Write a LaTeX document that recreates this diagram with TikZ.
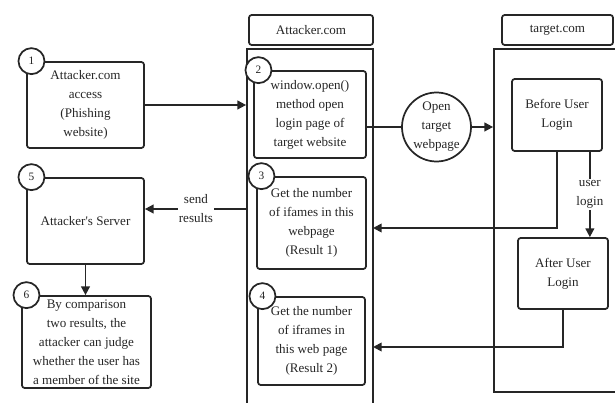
\documentclass[tikz,border=0pt]{standalone}
\usepackage{fontspec}
\setmainfont{Liberation Serif}
\usetikzlibrary{arrows.meta}
\definecolor{ink}{HTML}{262626}

\begin{document}
\begin{tikzpicture}[x=0.75pt,y=-0.75pt,
    every node/.style={font=\fontsize{9.8}{14.25}\selectfont,text=ink},
    box/.style={draw=ink,line width=1.3pt,rounded corners=2pt,align=center,inner sep=1pt},
    lane/.style={draw=ink,line width=1.3pt},
    num/.style={circle,draw=ink,fill=white,line width=1.3pt,minimum size=19.5pt,inner sep=0pt,font=\fontsize{8.5}{10}\selectfont},
    arr/.style={draw=ink,line width=1.3pt,-{Triangle[length=6.5pt,width=6.5pt]}},
    lbl/.style={fill=white,align=center,inner sep=1pt}]
    \useasboundingbox (0,0) rectangle (615,403);
    \clip (0,0) rectangle (615,403);
    % Lanes
    \node[lane,minimum width=94.5pt,minimum height=278.25pt] (alane) at (310,234.5) {};
    \node[lane,minimum width=109.5pt,minimum height=257.25pt] (tlane) at (567,220.5) {};
    \node[box,minimum width=93pt,minimum height=22.5pt] (ahead) at (311,30) {Attacker.com};
    \node[box,minimum width=83.25pt,minimum height=22.5pt] (thead) at (557.5,30) {target.com};
    % Left column
    \node[box,minimum width=87.75pt,minimum height=64.5pt] (b1) at (85.5,105) {Attacker.com\\access\\(Phishing\\website)};
    \node[box,minimum width=87.75pt,minimum height=64.5pt] (b5) at (85.5,221) {Attacker\textquotesingle s Server};
    \node[box,minimum width=96.75pt,minimum height=69pt] (b6) at (86.5,342) {By comparison\\two results, the\\attacker can judge\\whether the user has\\a member of the site};
    % Attacker.com column
    \node[box,minimum width=84pt,minimum height=65.25pt] (b2) at (310,114.5) {window.open()\\method open\\login page of\\target website};
    \node[box,minimum width=81.75pt,minimum height=69pt] (b3) at (311.5,223) {Get the number\\of ifames in this\\webpage\\(Result 1)};
    \node[box,minimum width=80.25pt,minimum height=66pt] (b4) at (311.5,341) {Get the number\\of iframes in\\this web page\\(Result 2)};
    \node[circle,draw=ink,line width=1.3pt,fill=white,minimum size=51.75pt,inner sep=0pt,align=center] (open) at (436.5,127) {Open\\target\\webpage};
    % target.com column
    \node[box,minimum width=67.5pt,minimum height=54pt] (before) at (557,115) {Before User\\Login};
    \node[box,minimum width=67.5pt,minimum height=53.25pt] (after) at (563,273.5) {After User\\Login};
    % Step numbers
    \foreach \bx/\nm in {b1/1,b2/2,b3/3,b4/4,b5/5,b6/6}
        \node[num] (n\nm) at ([xshift=4pt]\bx.north west) {\nm};
    % Connectors
    \coordinate (snd) at (247,209);
    \coordinate (res1) at (373,228);
    \coordinate (res2) at (373,347);
    \draw[arr] (b1.east) -- (b1.east -| alane.west);
    \draw[draw=ink,line width=1.3pt] (b2.east |- open) -- (open.west);
    \draw[arr] (open.east) -- (open.east -| tlane.west);
    \draw[arr] (before.south) |- (res1);
    \draw[arr] ([xshift=-9.75pt]before.south east) -- node[lbl] {user\\login} ([xshift=-14.25pt]after.north east);
    \draw[arr] (after.south) |- (res2);
    \draw[arr] (snd) -- node[lbl] {send\\results} (b5.east |- snd);
    \draw[arr] (b5.south) -- (b5.south |- b6.north);
\end{tikzpicture}
\end{document}
